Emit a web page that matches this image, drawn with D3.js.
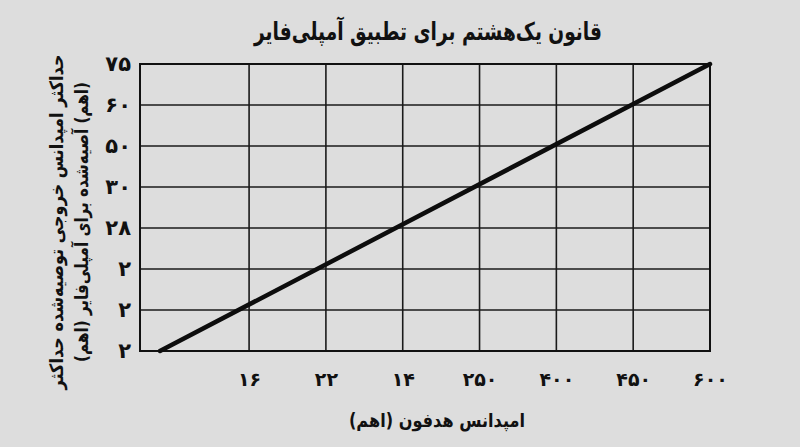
<!DOCTYPE html>
<html><head><meta charset="utf-8">
<script src="https://cdn.jsdelivr.net/npm/d3@7"></script>
<style>
html,body{margin:0;padding:0;background:#dddddd;}
svg{display:block;}
text{font-family:"DejaVu Sans",sans-serif;font-weight:bold;fill:#111;}
</style></head>
<body>
<script>
// ---- data ----
const xTickLabels = ["۱۶","۲۲","۱۴","۲۵۰","۴۰۰","۴۵۰","۶۰۰"];
const yTickLabels = ["۲","۲","۲","۲۸","۳۰","۵۰","۶۰","۷۵"]; // bottom -> top
// line endpoints in category-index units (x: tick index, y: tick index)
const lineX = [-1.16, 6];
const lineY = [0, 7];
const title = "قانون یک‌هشتم برای تطبیق آمپلی‌فایر";
const xTitle = "امپدانس هدفون (اهم)";
const yTitle1 = "حداکثر امپدانس خروجی توصیه‌شده حداکثر";
const yTitle2 = "(اهم) آصیه‌شده برای آمپلی‌فایر (اهم)";

const W = 800, H = 447;
const m = {left:140, right:90, top:64, bottom:96};
const svg = d3.select("body").append("svg").attr("width",W).attr("height",H);
svg.append("rect").attr("width",W).attr("height",H).attr("fill","#dddddd");

const x = d3.scaleLinear().domain([-1.42, 6]).range([m.left, W-m.right]);
const y = d3.scaleLinear().domain([0, yTickLabels.length-1]).range([H-m.bottom, m.top]);

const xIdx = d3.range(xTickLabels.length);
const yIdx = d3.range(yTickLabels.length);

// grid
const g = svg.append("g");
g.selectAll(".vg").data(xIdx).join("line")
  .attr("x1",d=>x(d)).attr("x2",d=>x(d)).attr("y1",y(0)).attr("y2",y(7))
  .attr("stroke","#1a1a1a").attr("stroke-width",1.6);
g.selectAll(".hg").data(yIdx).join("line")
  .attr("x1",x(-1.42)).attr("x2",x(6)).attr("y1",d=>y(d)).attr("y2",d=>y(d))
  .attr("stroke","#1a1a1a").attr("stroke-width",1.6);
g.append("rect").attr("x",x(-1.42)).attr("y",y(7)).attr("width",x(6)-x(-1.42)).attr("height",y(0)-y(7))
  .attr("fill","none").attr("stroke","#111").attr("stroke-width",2);

// axes labels via d3 axes
const xAxis = d3.axisBottom(x).tickValues(xIdx).tickFormat(i=>xTickLabels[i]).tickSize(0).tickPadding(22);
const xa = svg.append("g").attr("transform",`translate(0,${y(0)})`).call(xAxis);
xa.select(".domain").remove();
xa.selectAll("text").attr("font-size",19).attr("font-family","DejaVu Sans").attr("font-weight","bold").attr("fill","#111");

const yAxis = d3.axisLeft(y).tickValues(yIdx).tickFormat(i=>yTickLabels[i]).tickSize(0).tickPadding(9);
const ya = svg.append("g").attr("transform",`translate(${x(-1.42)},0)`).call(yAxis);
ya.select(".domain").remove();
ya.selectAll("text").attr("font-size",21).attr("font-family","DejaVu Sans").attr("font-weight","bold").attr("fill","#111");

// line
const pts = lineX.map((v,i)=>[v,lineY[i]]);
svg.append("path").datum(pts)
  .attr("d", d3.line().x(d=>x(d[0])).y(d=>y(d[1])))
  .attr("fill","none").attr("stroke","#0d0d0d").attr("stroke-width",4.5).attr("stroke-linecap","round");

// titles
function addText(t, tr, size, len){
  return svg.append("text").attr("transform",tr).attr("text-anchor","middle").attr("dominant-baseline","middle")
    .attr("direction","rtl").attr("font-size",size).attr("textLength",len).attr("lengthAdjust","spacingAndGlyphs").text(t);
}
addText(title, "translate(428,33)", 25, 348);
addText(xTitle, "translate(437,421)", 19, 176);
addText(yTitle1, "translate(58,222) rotate(-90)", 18.5, 335);
addText(yTitle2, "translate(83,222) rotate(-90)", 18.5, 280);
</script>
</body></html>
